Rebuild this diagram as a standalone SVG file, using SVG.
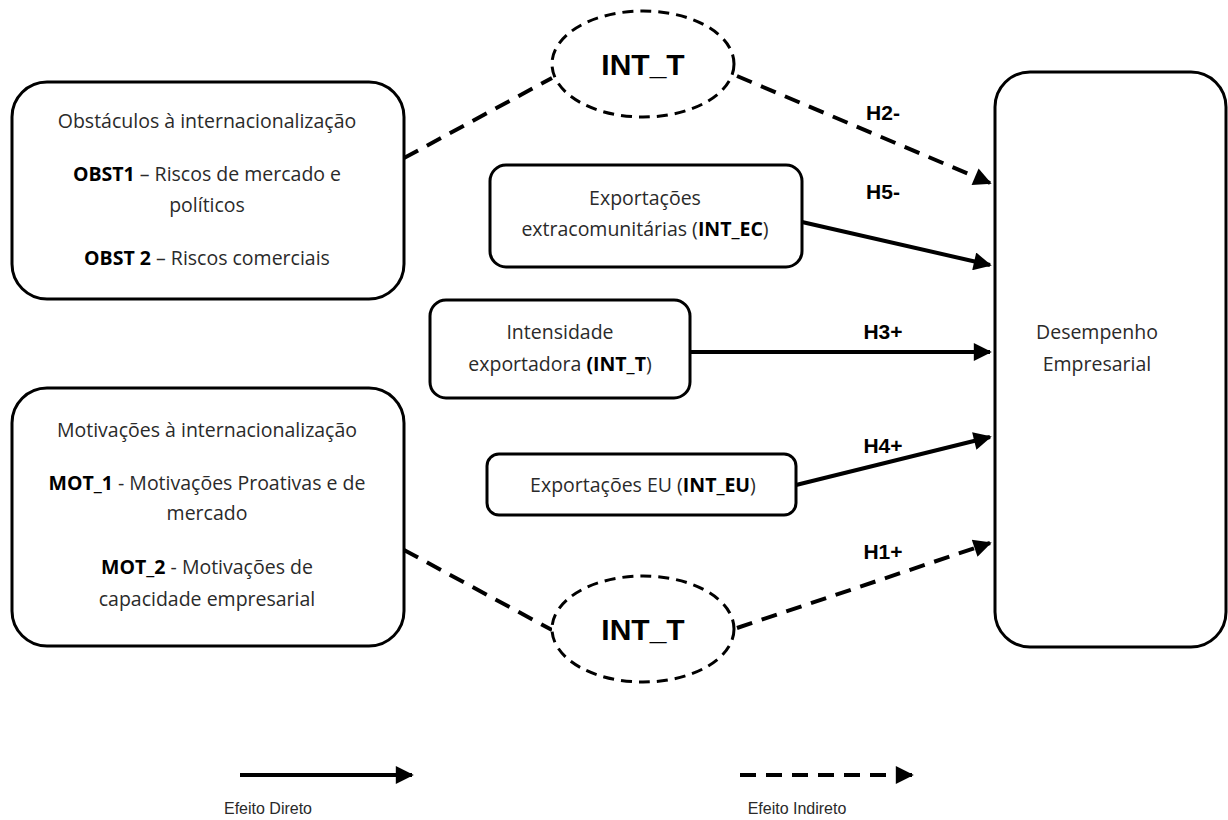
<svg xmlns="http://www.w3.org/2000/svg" width="1228" height="820" viewBox="0 0 1228 820">
<style>
.box{fill:#fff;stroke:#000;stroke-width:3}
.ell{fill:#fff;stroke:#000;stroke-width:3;stroke-dasharray:11 7}
.t{font-family:"Open Sans","Liberation Sans",Arial,sans-serif;font-size:19.5px;fill:#2a2a2a;text-anchor:middle}
.b{font-weight:bold;fill:#000}
.big{font-family:"Liberation Sans",Arial,sans-serif;font-size:30px;font-weight:bold;text-anchor:middle;fill:#000}
.h{font-family:"Liberation Sans",Arial,sans-serif;font-size:21px;font-weight:bold;text-anchor:middle;fill:#000}
.lg{font-family:"Liberation Sans",Arial,sans-serif;font-size:16px;fill:#2a2a2a;text-anchor:middle}
.s{fill:none;stroke:#000;stroke-width:4}
.d{fill:none;stroke:#000;stroke-width:4;stroke-dasharray:16 10}
</style>
<defs>
<marker id="ah" viewBox="0 0 10 10" refX="9" refY="5" markerWidth="5" markerHeight="4.5" markerUnits="strokeWidth" orient="auto">
<path d="M0,0 L10,5 L0,10 z" fill="#000"/>
</marker>
</defs>
<rect width="1228" height="820" fill="#fff"/>
<g id="connectors">
<line class="d" x1="404" y1="158" x2="552" y2="78"/>
<line class="d" x1="737" y1="76" x2="990" y2="183" marker-end="url(#ah)"/>
<line class="s" x1="802" y1="222" x2="990" y2="265" marker-end="url(#ah)"/>
<line class="s" x1="690" y1="352" x2="990" y2="352" marker-end="url(#ah)"/>
<line class="s" x1="796" y1="485" x2="990" y2="437" marker-end="url(#ah)"/>
<line class="d" x1="404" y1="550" x2="552" y2="630"/>
<line class="d" x1="737" y1="628" x2="990" y2="543" marker-end="url(#ah)"/>
<text class="h" x="883" y="120">H2-</text>
<text class="h" x="883" y="199">H5-</text>
<text class="h" x="883" y="339">H3+</text>
<text class="h" x="883" y="453">H4+</text>
<text class="h" x="883" y="559">H1+</text>
</g>
<g id="obst">
<rect class="box" x="12" y="82" width="392" height="217" rx="35"/>
<text class="t" x="207" y="128">Obstáculos à internacionalização</text>
<text class="t" x="207" y="181"><tspan class="b">OBST1</tspan> – Riscos de mercado e</text>
<text class="t" x="207" y="212">políticos</text>
<text class="t" x="207" y="265"><tspan class="b">OBST 2</tspan> – Riscos comerciais</text>
</g>
<g id="mot">
<rect class="box" x="12" y="388" width="392" height="258" rx="35"/>
<text class="t" x="207" y="437">Motivações à internacionalização</text>
<text class="t" x="207" y="490"><tspan class="b">MOT_1</tspan> - Motivações Proativas e de</text>
<text class="t" x="207" y="520">mercado</text>
<text class="t" x="207" y="574"><tspan class="b">MOT_2</tspan> - Motivações de</text>
<text class="t" x="207" y="606">capacidade empresarial</text>
</g>
<g id="int_t_top">
<ellipse class="ell" cx="643" cy="64" rx="91" ry="53"/>
<text class="big" x="643" y="75">INT_T</text>
</g>
<g id="int_ec">
<rect class="box" x="490" y="165" width="312" height="102" rx="16"/>
<text class="t" x="645" y="205">Exportações</text>
<text class="t" x="645" y="236">extracomunitárias (<tspan class="b">INT_EC</tspan>)</text>
</g>
<g id="int_t_box">
<rect class="box" x="430" y="300" width="260" height="98" rx="16"/>
<text class="t" x="560" y="339">Intensidade</text>
<text class="t" x="560" y="371">exportadora <tspan class="b">(INT_T</tspan>)</text>
</g>
<g id="int_eu">
<rect class="box" x="487" y="454" width="309" height="61" rx="12"/>
<text class="t" x="643" y="492">Exportações EU (<tspan class="b">INT_EU</tspan>)</text>
</g>
<g id="int_t_bottom">
<ellipse class="ell" cx="643" cy="629" rx="91" ry="53"/>
<text class="big" x="643" y="640">INT_T</text>
</g>
<g id="desempenho">
<rect class="box" x="995" y="72" width="231" height="575" rx="35"/>
<text class="t" x="1097" y="339">Desempenho</text>
<text class="t" x="1097" y="371">Empresarial</text>
</g>
<g id="legend">
<line class="s" x1="240" y1="775" x2="412" y2="775" marker-end="url(#ah)"/>
<text class="lg" x="268" y="814">Efeito Direto</text>
<line class="d" x1="740" y1="775" x2="912" y2="775" marker-end="url(#ah)"/>
<text class="lg" x="797" y="814">Efeito Indireto</text>
</g>
</svg>
